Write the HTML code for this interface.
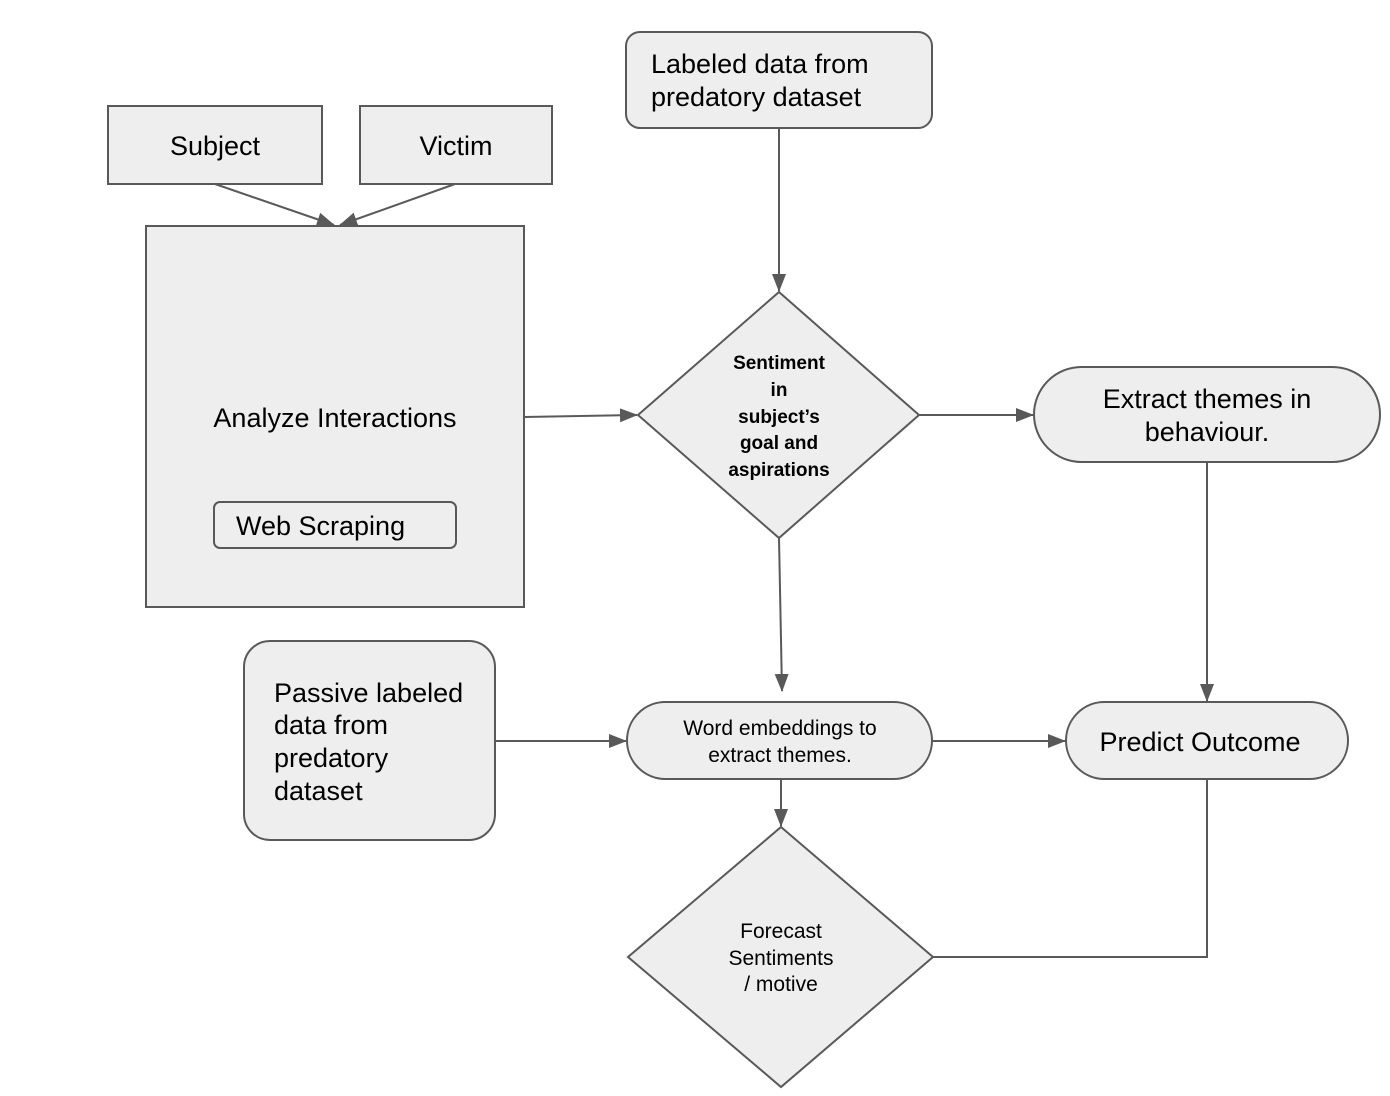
<!DOCTYPE html>
<html><head><meta charset="utf-8"><style>
html,body{margin:0;padding:0;background:#fff;}
svg{display:block;}
text{font-family:"Liberation Sans",sans-serif;fill:#000;}
.m text{font-family:"Liberation Sans Narrow","Liberation Sans",sans-serif;font-weight:bold;}
</style></head><body>
<svg width="1390" height="1096" viewBox="0 0 1390 1096" xmlns="http://www.w3.org/2000/svg">
<defs>
<marker id="a" markerWidth="18" markerHeight="14" refX="17" refY="7" orient="auto" markerUnits="userSpaceOnUse" viewBox="0 0 18 14">
<path d="M0,0 L18,7 L0,14 z" fill="#595959"/>
</marker>
</defs>
<g fill="#eeeeee" stroke="#595959" stroke-width="2">
<rect x="108" y="106" width="214" height="78"/>
<rect x="360" y="106" width="192" height="78"/>
<rect x="146" y="226" width="378" height="381"/>
<rect x="214" y="502" width="242" height="46" rx="6"/>
<rect x="626" y="32" width="306" height="96" rx="14"/>
<polygon points="779,292 919,415 779,538 638,415"/>
<rect x="1034" y="367" width="346" height="95" rx="47.5"/>
<rect x="627" y="702" width="305" height="77" rx="38.5"/>
<rect x="244" y="641" width="251" height="199" rx="26"/>
<rect x="1066" y="702" width="282" height="77" rx="38.5"/>
<polygon points="781,827 933,957 781,1087 628,957"/>
</g>
<g stroke="#595959" stroke-width="2" fill="none" marker-end="url(#a)">
<line x1="215" y1="184" x2="334" y2="225"/>
<line x1="455" y1="184" x2="340" y2="225"/>
<line x1="779" y1="128" x2="779" y2="291"/>
<line x1="524" y1="417" x2="637" y2="415"/>
<line x1="919" y1="415" x2="1033" y2="415"/>
<line x1="1207" y1="462" x2="1207" y2="701"/>
<line x1="779" y1="538" x2="782" y2="691"/>
<line x1="495" y1="741" x2="626" y2="741"/>
<line x1="932" y1="741" x2="1065" y2="741"/>
<line x1="781" y1="779" x2="781" y2="826"/>
</g>
<polyline points="933,957 1207,957 1207,779" stroke="#595959" stroke-width="2" fill="none"/>
<g font-size="27">
<text x="215" y="155" text-anchor="middle">Subject</text>
<text x="456" y="155" text-anchor="middle">Victim</text>
<text x="335" y="427" text-anchor="middle">Analyze Interactions</text>
<text x="236" y="535">Web Scraping</text>
<text x="651" y="73">Labeled data from</text>
<text x="651" y="106">predatory dataset</text>
<text x="1207" y="408" text-anchor="middle">Extract themes in</text>
<text x="1207" y="441" text-anchor="middle">behaviour.</text>
<text x="274" y="702">Passive labeled</text>
<text x="274" y="734">data from</text>
<text x="274" y="767">predatory</text>
<text x="274" y="800">dataset</text>
<text x="1200" y="751" text-anchor="middle">Predict Outcome</text>
</g>
<g font-size="21" text-anchor="middle">
<text x="780" y="735">Word embeddings to</text>
<text x="780" y="762">extract themes.</text>
<text x="781" y="938">Forecast</text>
<text x="781" y="965">Sentiments</text>
<text x="781" y="991">/ motive</text>
</g>
<g class="m" font-size="19" text-anchor="middle">
<text x="779" y="369">Sentiment</text>
<text x="779" y="396">in</text>
<text x="779" y="423">subject’s</text>
<text x="779" y="449">goal and</text>
<text x="779" y="476">aspirations</text>
</g>
</svg>
</body></html>
